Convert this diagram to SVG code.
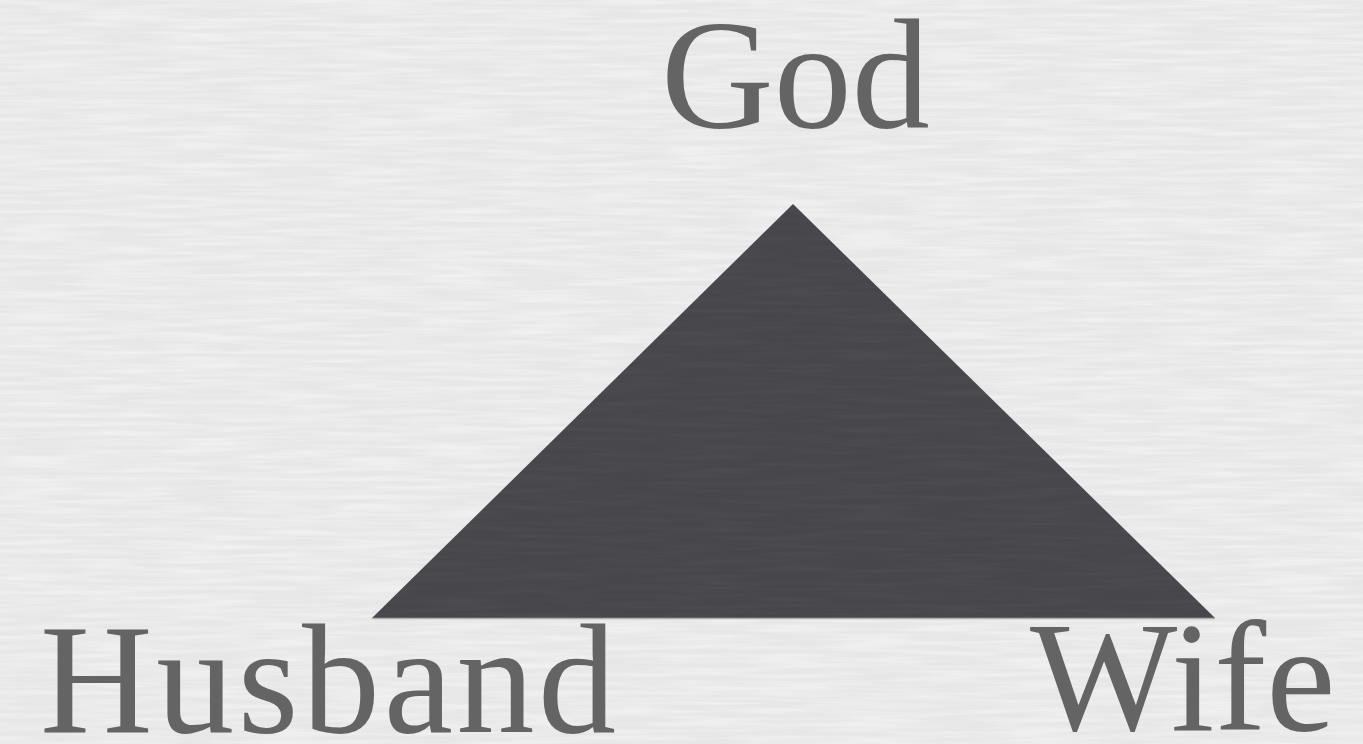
<svg xmlns="http://www.w3.org/2000/svg" width="1363" height="744" viewBox="0 0 1363 744">
  <defs>
    <filter id="paper" x="0" y="0" width="100%" height="100%">
      <feTurbulence type="fractalNoise" baseFrequency="0.012 0.22" numOctaves="3" seed="7" result="n"/>
      <feColorMatrix in="n" type="matrix" values="0 0 0 0 1  0 0 0 0 1  0 0 0 0 1  0 0 0 -1.8 1.2" result="w"/>
      <feComposite in="w" in2="SourceGraphic" operator="in"/>
    </filter>
    <filter id="paperDark" x="0" y="0" width="100%" height="100%">
      <feTurbulence type="fractalNoise" baseFrequency="0.012 0.22" numOctaves="3" seed="3" result="n"/>
      <feColorMatrix in="n" type="matrix" values="0 0 0 0 0.45  0 0 0 0 0.45  0 0 0 0 0.45  0 0 0 -1.4 0.9" result="w"/>
      <feComposite in="w" in2="SourceGraphic" operator="in"/>
    </filter>
  </defs>
  <style>
    .label { font-family: "Liberation Serif", "DejaVu Serif", serif; font-size: 156px; fill: #646464; }
  </style>
  <g id="background">
    <rect x="0" y="0" width="1363" height="744" fill="#e7e7e7"/>
    <rect x="0" y="0" width="1363" height="744" fill="#ffffff" filter="url(#paper)" opacity="0.45"/>
  </g>
  <g id="connectors">
    <polygon points="793,204 1215,618 372,618" fill="#47474b"/>
    <polygon points="793,204 1215,618 372,618" fill="#000" filter="url(#paperDark)" opacity="0.08"/>
    <line x1="372" y1="618.5" x2="1215" y2="618.5" stroke="#b0b0b0" stroke-width="1.5"/>
  </g>
  <g id="node-god">
    <text class="label" x="661" y="127">God</text>
  </g>
  <g id="node-husband">
    <text class="label" x="40" y="732" textLength="576" lengthAdjust="spacing">Husband</text>
  </g>
  <g id="node-wife">
    <text class="label" x="1030" y="730">Wife</text>
  </g>
</svg>
